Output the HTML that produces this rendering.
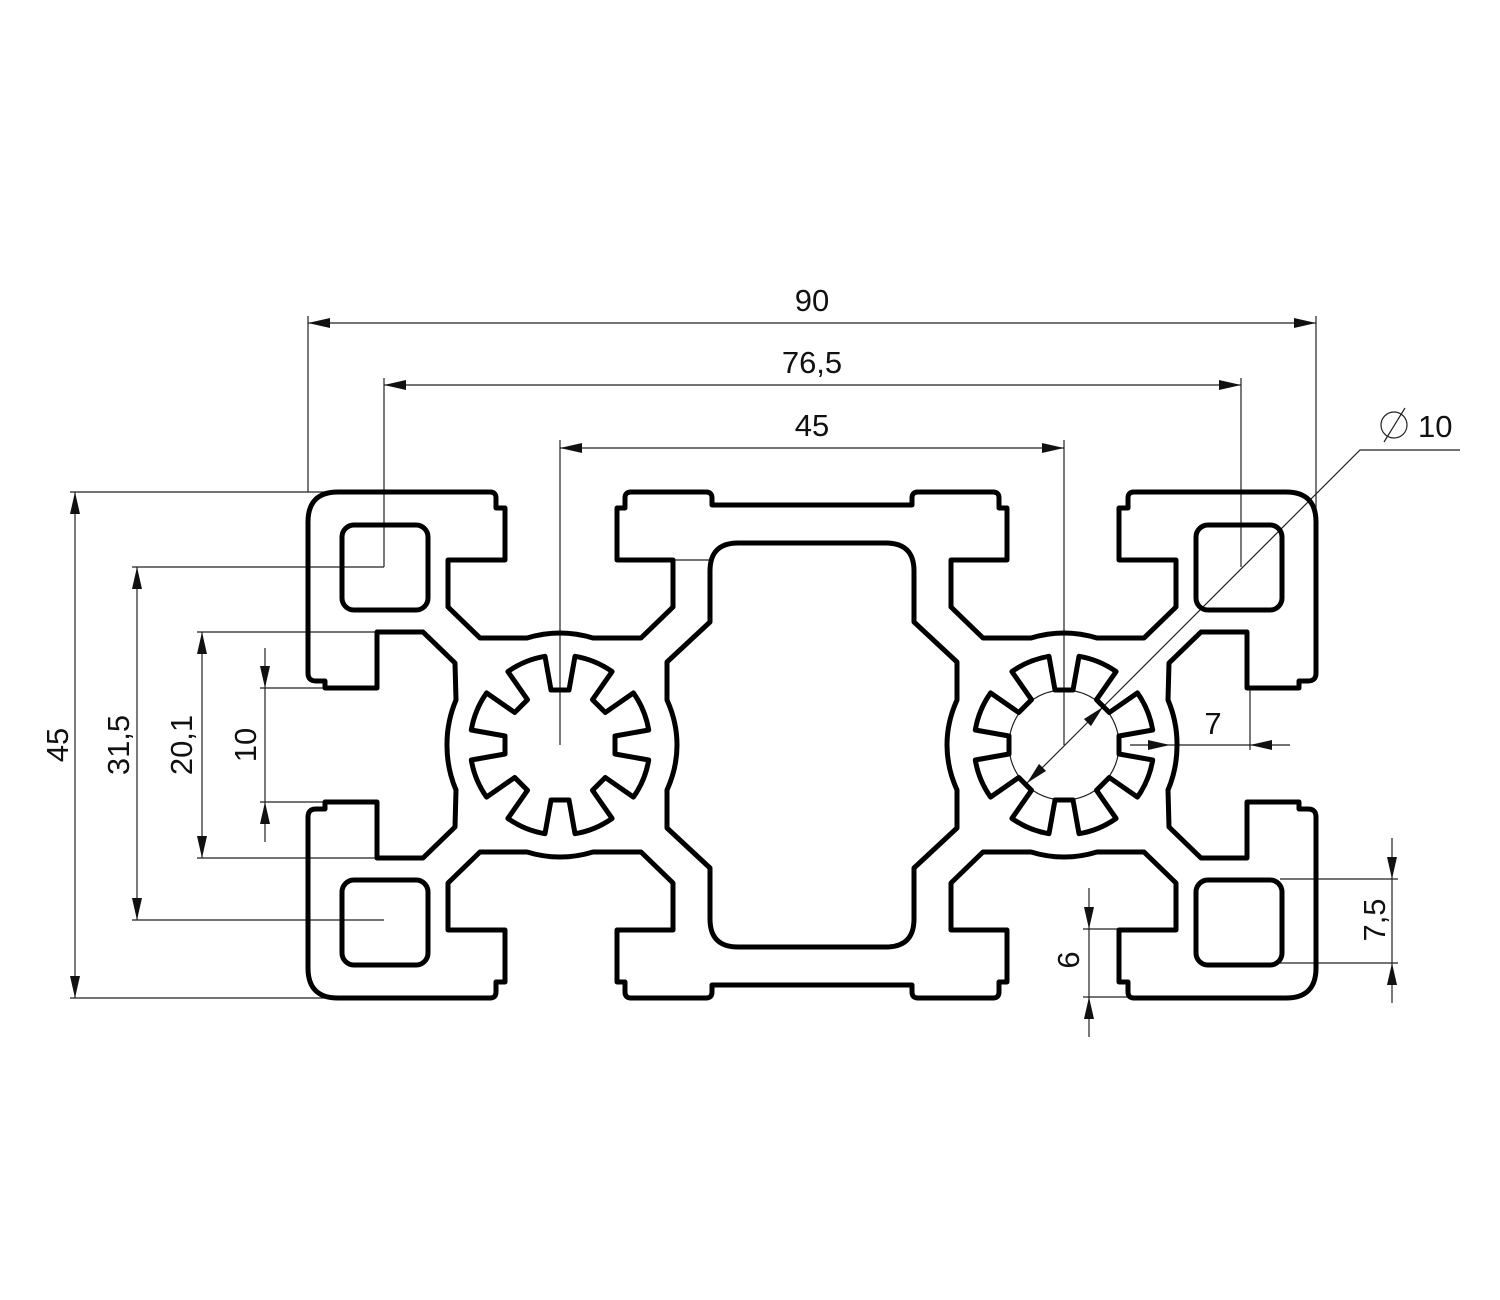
<!DOCTYPE html>
<html><head><meta charset="utf-8"><style>
html,body{margin:0;padding:0;background:#fff;}
svg{display:block;}
text{font-family:"Liberation Sans",sans-serif;font-size:31px;fill:#111;}
</style></head><body>
<svg id="s" width="1500" height="1300" viewBox="0 0 1500 1300" xmlns="http://www.w3.org/2000/svg">
<defs>
<marker id="a" viewBox="0 0 22 10" refX="22" refY="5" markerWidth="22" markerHeight="10" markerUnits="userSpaceOnUse" orient="auto-start-reverse"><path d="M0,0 L22,5 L0,10 z" fill="#111"/></marker>
<path id="q" d="M447,745 A113,113 0 0 1 456,700 L455,663 L423,632 L377,632 L377,688 L325,688 L325,681 L316,681 Q308,681 308,673 L308,522 Q308,492 338,492 L490,492 Q496,492 496,498 L496,508 L505,508 L505,560 L448,560 L448,607 L480,638 L527,638 A113,113 0 0 1 593,638 L641,638 L673,607 L673,560 L617,560 L617,508 L625,508 L625,498 Q625,492 631,492 L706,492 Q712,492 712,498 L712,505 L812,505 M812,543 L738,543 Q710,543 710,571 L710,622 L667,662 L667,700 Q677,722 677,745" fill="none" stroke="#000" stroke-width="5" stroke-linejoin="round"/>
</defs>
<!-- thin dimension lines -->
<g stroke="#222" stroke-width="1.2" fill="none">
<line x1="308" y1="316" x2="308" y2="492"/><line x1="1316" y1="316" x2="1316" y2="520"/>
<line x1="384" y1="378" x2="384" y2="567"/><line x1="1241" y1="378" x2="1241" y2="567"/>
<line x1="560" y1="440" x2="560" y2="745"/><line x1="1064" y1="440" x2="1064" y2="745"/>
<line x1="70" y1="492" x2="330" y2="492"/><line x1="70" y1="998" x2="330" y2="998"/>
<line x1="132" y1="567" x2="384" y2="567"/><line x1="132" y1="920" x2="384" y2="920"/>
<line x1="197" y1="632" x2="377" y2="632"/><line x1="197" y1="858" x2="377" y2="858"/>
<line x1="260" y1="688" x2="325" y2="688"/><line x1="260" y1="802" x2="325" y2="802"/>
<line x1="1250" y1="688" x2="1250" y2="750"/>
<line x1="1280" y1="879" x2="1398" y2="879"/><line x1="1280" y1="963" x2="1398" y2="963"/>
<line x1="1083" y1="929" x2="1120" y2="929"/><line x1="1083" y1="997" x2="1130" y2="997"/>
<line x1="675" y1="560" x2="710" y2="560"/>
</g>
<g stroke="#222" stroke-width="1.2" fill="none">
<line x1="308" y1="323" x2="1316" y2="323" marker-start="url(#a)" marker-end="url(#a)"/>
<line x1="384" y1="385" x2="1241" y2="385" marker-start="url(#a)" marker-end="url(#a)"/>
<line x1="560" y1="448" x2="1064" y2="448" marker-start="url(#a)" marker-end="url(#a)"/>
<line x1="75" y1="492" x2="75" y2="998" marker-start="url(#a)" marker-end="url(#a)"/>
<line x1="137" y1="567" x2="137" y2="920" marker-start="url(#a)" marker-end="url(#a)"/>
<line x1="202" y1="632" x2="202" y2="858" marker-start="url(#a)" marker-end="url(#a)"/>
<line x1="265" y1="648" x2="265" y2="688" marker-end="url(#a)"/>
<line x1="265" y1="842" x2="265" y2="802" marker-end="url(#a)"/>
<line x1="265" y1="688" x2="265" y2="802"/>
<line x1="1130" y1="745" x2="1170" y2="745" marker-end="url(#a)"/>
<line x1="1290" y1="745" x2="1250" y2="745" marker-end="url(#a)"/>
<line x1="1170" y1="745" x2="1250" y2="745"/>
<line x1="1392" y1="838" x2="1392" y2="879" marker-end="url(#a)"/>
<line x1="1392" y1="1003" x2="1392" y2="963" marker-end="url(#a)"/>
<line x1="1392" y1="879" x2="1392" y2="963"/>
<line x1="1089" y1="888" x2="1089" y2="929" marker-end="url(#a)"/>
<line x1="1089" y1="1037" x2="1089" y2="997" marker-end="url(#a)"/>
<line x1="1089" y1="929" x2="1089" y2="997"/>
<line x1="1027" y1="783" x2="1103" y2="707" marker-start="url(#a)" marker-end="url(#a)"/>
<polyline points="1103,707 1360,450 1460,450"/>
<circle cx="1064" cy="745" r="55"/>
<circle cx="1394" cy="425" r="13"/><line x1="1384" y1="442" x2="1405" y2="408"/>
</g>
<!-- profile -->
<use href="#q"/>
<use href="#q" transform="translate(1624,0) scale(-1,1)"/>
<use href="#q" transform="translate(0,1490) scale(1,-1)"/>
<use href="#q" transform="translate(1624,1490) scale(-1,-1)"/>
<g fill="none" stroke="#000" stroke-width="5">
<rect x="342" y="525" width="86" height="85" rx="12"/>
<rect x="342" y="880" width="86" height="85" rx="12"/>
<rect x="1196" y="525" width="86" height="85" rx="12"/>
<rect x="1196" y="880" width="86" height="85" rx="12"/>
<path id="g1" stroke-linejoin="round"/>
<path id="g2" stroke-linejoin="round"/>
</g>
<text x="812" y="311" text-anchor="middle">90</text>
<text x="812" y="373" text-anchor="middle">76,5</text>
<text x="812" y="436" text-anchor="middle">45</text>
<text x="1418" y="437">10</text>
<text x="1213" y="734" text-anchor="middle">7</text>
<text transform="translate(68,745) rotate(-90)" text-anchor="middle">45</text>
<text transform="translate(129,745) rotate(-90)" text-anchor="middle">31,5</text>
<text transform="translate(192,745) rotate(-90)" text-anchor="middle">20,1</text>
<text transform="translate(256,745) rotate(-90)" text-anchor="middle">10</text>
<text transform="translate(1385,920) rotate(-90)" text-anchor="middle">7,5</text>
<text transform="translate(1079,960) rotate(-90)" text-anchor="middle">6</text>
</svg>
<script>
function gear(cx,cy){
 var ro=90,ri=55,wo=15,wi=9,d="";
 var ao=Math.asin(wo/ro);
 function P(r,phi){return (cx+r*Math.sin(phi)).toFixed(1)+","+(cy-r*Math.cos(phi)).toFixed(1);}
 for(var k=0;k<8;k++){
  var t=k*Math.PI/4, s=Math.sin(t), c=Math.cos(t);
  var ux=s, uy=-c, px=c, py=s;
  var A=P(ro,t-ao);
  var B=(cx+ri*ux-wi*px).toFixed(1)+","+(cy+ri*uy-wi*py).toFixed(1);
  var C=(cx+ri*ux+wi*px).toFixed(1)+","+(cy+ri*uy+wi*py).toFixed(1);
  var D=P(ro,t+ao);
  var N=P(ro,t+Math.PI/4-ao);
  d+=(k==0?"M"+A:"L"+A)+" L"+B+" L"+C+" L"+D+" A"+ro+","+ro+" 0 0 1 "+N+" ";
 }
 return d+"Z";
}
document.getElementById("g1").setAttribute("d",gear(560,745));
document.getElementById("g2").setAttribute("d",gear(1064,745));
</script>
</body></html>
